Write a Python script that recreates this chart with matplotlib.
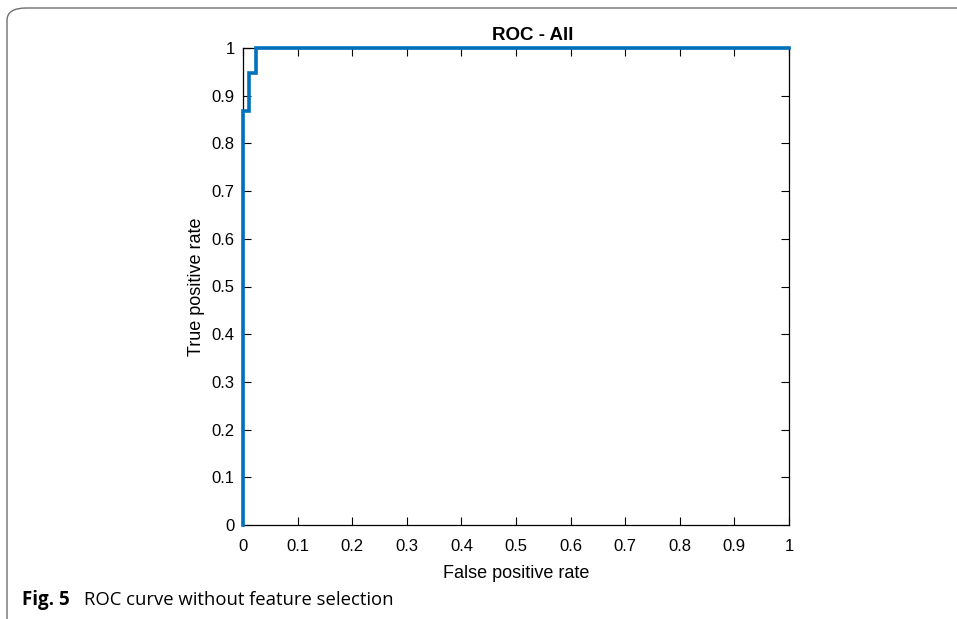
import matplotlib.pyplot as plt
from matplotlib.patches import FancyBboxPatch

# ROC step points
fpr = [0.0, 0.0, 0.011, 0.011, 0.024, 0.024, 1.0]
tpr = [0.0, 0.867, 0.867, 0.947, 0.947, 1.0, 1.0]
ticks = [0, 0.1, 0.2, 0.3, 0.4, 0.5, 0.6, 0.7, 0.8, 0.9, 1]
tick_labels = ["0", "0.1", "0.2", "0.3", "0.4", "0.5", "0.6", "0.7", "0.8", "0.9", "1"]

plt.rcParams['font.family'] = ['Liberation Sans', 'DejaVu Sans']

fig = plt.figure(figsize=(9.57, 6.19), dpi=100)
ax = fig.add_axes([243 / 957, 1 - 525 / 619, 546 / 957, 477 / 619])

ax.plot(fpr, tpr, color="#0072BD", lw=2.6, solid_joinstyle="miter", clip_on=False, zorder=3)
ax.set_xlim(0, 1)
ax.set_ylim(0, 1)
ax.set_xticks(ticks)
ax.set_xticklabels(tick_labels)
ax.set_yticks(ticks)
ax.set_yticklabels(tick_labels)
ax.tick_params(direction="in", top=True, right=True, length=6, width=0.8,
               labelsize=12)
ax.tick_params(axis="x", pad=10)
ax.tick_params(axis="y", pad=6)
for s in ax.spines.values():
    s.set_linewidth(0.9)

ax.set_title("ROC - All", fontsize=13.5, fontweight="bold", x=0.53, pad=6)
ax.set_xlabel("False positive rate", fontsize=13, labelpad=8)
ax.set_ylabel("True positive rate", fontsize=13, labelpad=5)

# page frame with rounded corner and caption
frame = FancyBboxPatch((7 / 957, -0.1), 1.2, 1 - 8 / 619 + 0.1,
                       boxstyle="round,pad=0,rounding_size=0.02",
                       transform=fig.transFigure, fill=False,
                       edgecolor="#6e6e6e", lw=1.0, clip_on=False)
fig.patches.append(frame)
fig.text(22 / 957, 1 - 600 / 619, "Fig. 5", fontsize=13.5, fontweight="bold",
         family=["Open Sans", "DejaVu Sans"], va="center", ha="left")
fig.text(84 / 957, 1 - 600 / 619, "ROC curve without feature selection", fontsize=13.3,
         family=["Open Sans", "DejaVu Sans"], va="center", ha="left")

fig.savefig("out.png", dpi=100)
